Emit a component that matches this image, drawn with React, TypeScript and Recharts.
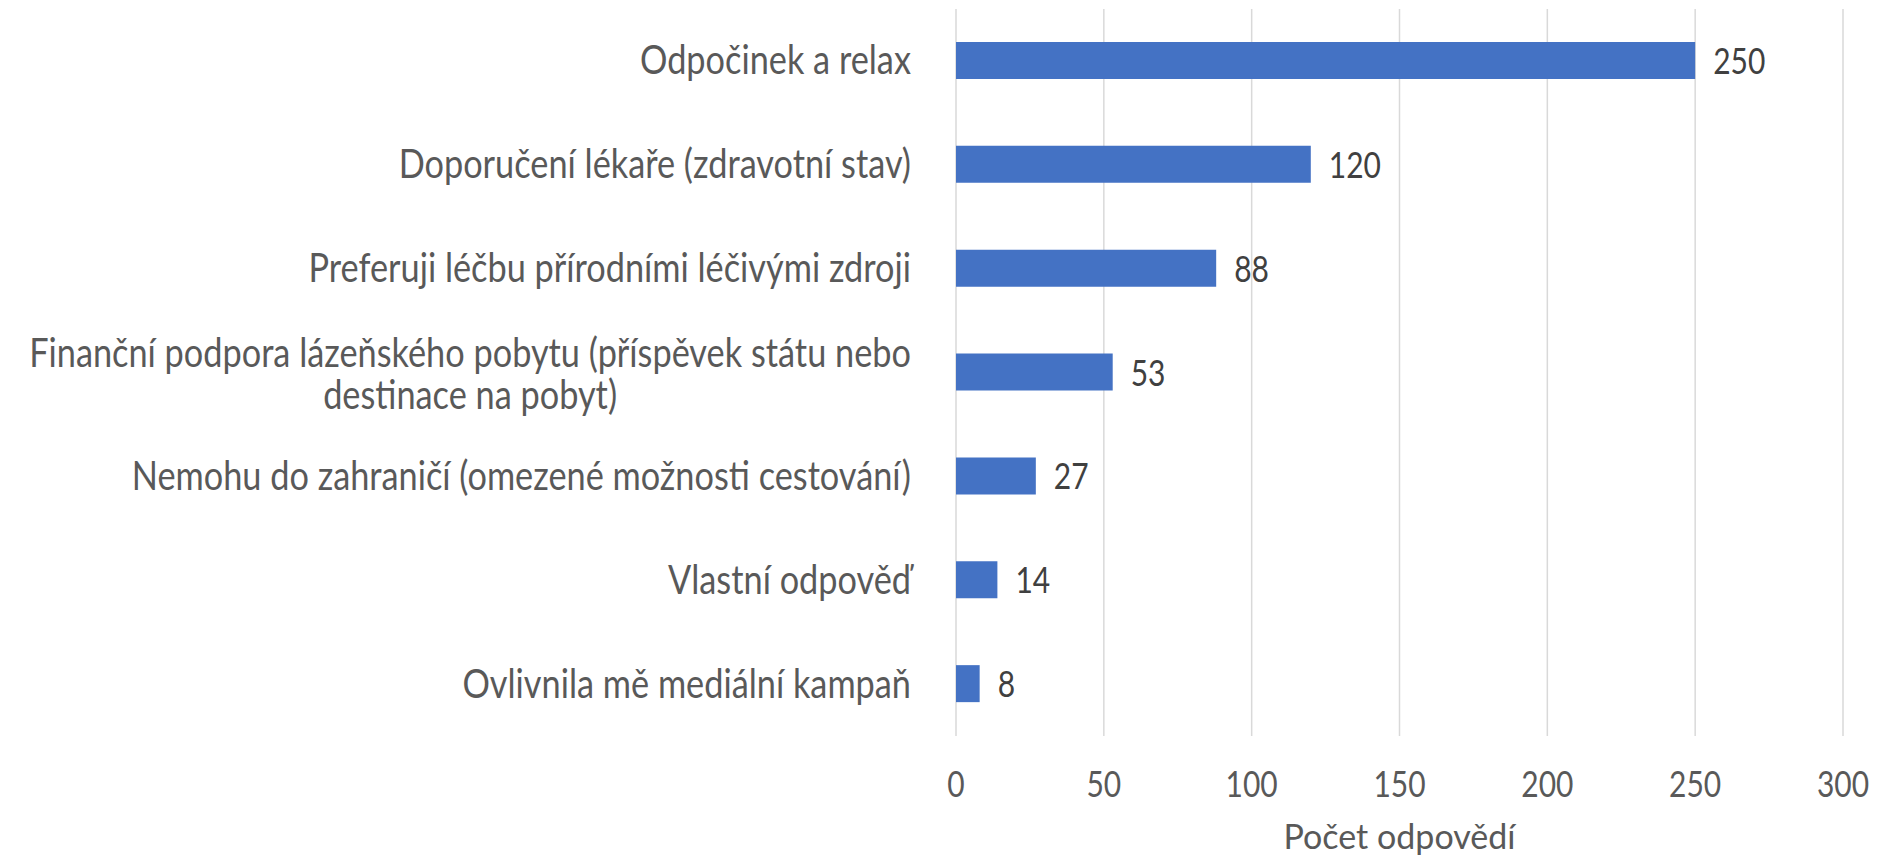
import React from 'react';
import { BarChart, Bar, XAxis, YAxis, CartesianGrid, LabelList } from 'recharts';

const categories = [
  'Odpočinek a relax',
  'Doporučení lékaře (zdravotní stav)',
  'Preferuji léčbu přírodními léčivými zdroji',
  'Finanční podpora lázeňského pobytu (příspěvek státu nebo\ndestinace na pobyt)',
  'Nemohu do zahraničí (omezené možnosti cestování)',
  'Vlastní odpověď',
  'Ovlivnila mě mediální kampaň',
];
const counts = [250, 120, 88, 53, 27, 14, 8];
const xTicks = [0, 50, 100, 150, 200, 250, 300];
const axisTitle = 'Počet odpovědí';

const data = categories.map((name, i) => ({ name, value: counts[i] }));

const FONT = 'Lato, sans-serif';
const SY = 1.2; // source picture is stretched vertically
const CAT_SIZE = 34.3;
const NUM_SIZE = 30;
const TITLE_SIZE = 34;

let measureCtx: CanvasRenderingContext2D | null = null;
const measure = (s: string, size: number) => {
  if (!measureCtx) measureCtx = document.createElement('canvas').getContext('2d');
  if (!measureCtx) return s.length * size * 0.5;
  measureCtx.font = `${size}px Lato`;
  return measureCtx.measureText(s).width;
};

const CategoryTick = (props: any) => {
  const { x, y, payload } = props;
  const lines: string[] = String(payload.value).split('\n');
  const right = x - 45;
  const w0 = measure(lines[0], CAT_SIZE);
  const mid = right - w0 / 2;
  const multi = lines.length > 1;
  return (
    <g>
      {lines.map((ln, i) => {
        const by = y + (multi ? 15 : 13.5) + (i - (lines.length - 1) / 2) * 42;
        return (
          <text
            key={i}
            transform={`translate(${multi ? mid : right},${by}) scale(1,${SY})`}
            textAnchor={multi ? 'middle' : 'end'}
            fill="#595959"
            fontSize={CAT_SIZE}
            fontFamily={FONT}
          >
            {ln}
          </text>
        );
      })}
    </g>
  );
};

const ValueTick = (props: any) => {
  const { x, y, payload } = props;
  return (
    <text
      transform={`translate(${x},${y + 61}) scale(1,${SY})`}
      textAnchor="middle"
      fill="#595959"
      fontSize={NUM_SIZE}
      fontFamily={FONT}
    >
      {payload.value}
    </text>
  );
};

const BarValue = (props: any) => {
  const { x, y, width, height, value } = props;
  return (
    <text
      transform={`translate(${x + width + 18},${y + height / 2 + 13.5}) scale(1,${SY})`}
      fill="#404040"
      fontSize={NUM_SIZE}
      fontFamily={FONT}
    >
      {value}
    </text>
  );
};

const AxisTitle = (props: any) => {
  const { viewBox } = props;
  if (!viewBox) return null;
  return (
    <text
      x={viewBox.x + viewBox.width / 2}
      y={viewBox.y + 113}
      textAnchor="middle"
      fill="#595959"
      fontSize={TITLE_SIZE}
      fontFamily={FONT}
    >
      {axisTitle}
    </text>
  );
};

export default function App() {
  return (
    <div style={{ position: 'absolute', left: 0, top: 0, background: '#fff' }}>
      <BarChart
        width={1877}
        height={856}
        data={data}
        layout="vertical"
        margin={{ top: 9, right: 34, bottom: 0, left: 0 }}
      >
        <CartesianGrid vertical horizontal={false} stroke="#D9D9D9" strokeWidth={1.5} />
        <XAxis
          type="number"
          domain={[0, 300]}
          ticks={xTicks}
          height={120}
          axisLine={false}
          tickLine={false}
          tickSize={0}
          tickMargin={0}
          tick={<ValueTick />}
          label={<AxisTitle />}
        />
        <YAxis
          type="category"
          dataKey="name"
          width={956}
          axisLine={false}
          tickLine={false}
          tickSize={0}
          tickMargin={0}
          interval={0}
          tick={<CategoryTick />}
        />
        <Bar dataKey="value" fill="#4472C4" barSize={37} isAnimationActive={false}>
          <LabelList dataKey="value" content={<BarValue />} />
        </Bar>
      </BarChart>
    </div>
  );
}
